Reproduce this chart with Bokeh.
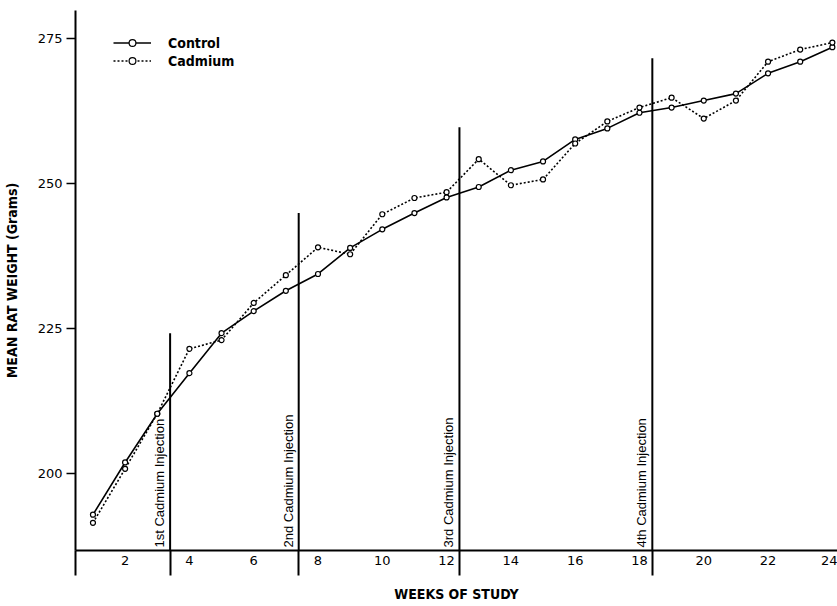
import numpy as np
from bokeh.plotting import figure
from bokeh.models import Range1d, FixedTicker, Legend, LegendItem
from bokeh.core.properties import value
from bokeh.embed import file_html
from bokeh.resources import INLINE

# ---- data ----
weeks = list(range(1, 25))
control = [192.9, 201.9, 210.3, 217.3, 224.2, 228.0, 231.5, 234.4, 238.9, 242.1,
           244.9, 247.6, 249.4, 252.3, 253.8, 257.6, 259.5, 262.2, 263.1, 264.3,
           265.5, 269.0, 271.0, 273.5]
cadmium = [191.5, 200.8, 210.3, 221.5, 223.0, 229.4, 234.2, 239.0, 237.8, 244.7,
           247.5, 248.5, 254.2, 249.7, 250.7, 256.9, 260.7, 263.1, 264.8, 261.2,
           264.3, 271.0, 273.1, 274.3]
injection_weeks = [3.4, 7.4, 12.4, 18.4]
injection_tops = [224.2, 244.9, 259.7, 271.6]
injection_labels = ["1st Cadmium Injection", "2nd Cadmium Injection",
                    "3rd Cadmium Injection", "4th Cadmium Injection"]
x_ticks = list(range(2, 25, 2))
y_ticks = [200, 225, 250, 275]
x_title = "WEEKS OF STUDY"
y_title = "MEAN RAT WEIGHT (Grams)"

# ---- layout ----
X_START, X_END = 0.457, 24.16
Y_START, Y_END = 186.72, 279.83
COND = "DejaVu Sans Condensed"
TICKF = "DejaVu Sans"
REG = "Liberation Sans"

p = figure(width=837, height=606, output_backend="svg", toolbar_location=None,
           x_range=Range1d(X_START, X_END), y_range=Range1d(Y_START, Y_END),
           min_border_left=75, min_border_right=0, min_border_top=10,
           min_border_bottom=56)
p.grid.visible = False
p.outline_line_color = None
p.background_fill_color = "white"
p.border_fill_color = "white"

# x axis: labels on even weeks, long minor ticks continue the vertical rules
xa = p.xaxis[0]
xa.ticker = FixedTicker(ticks=x_ticks, minor_ticks=[X_START] + injection_weeks)
xa.major_tick_in = 0
xa.major_tick_out = 0
xa.minor_tick_in = 0
xa.minor_tick_out = 25
xa.minor_tick_line_width = 2
xa.minor_tick_line_color = "black"
xa.axis_line_width = 2
xa.axis_line_color = "black"
xa.major_label_standoff = -20
xa.major_label_text_font = TICKF
xa.major_label_text_font_size = "13px"
xa.major_label_text_color = "black"
xa.axis_label = x_title
xa.axis_label_standoff = 18
xa.axis_label_text_font = COND
xa.axis_label_text_font_style = "bold"
xa.axis_label_text_font_size = "14px"
xa.axis_label_text_color = "black"

ya = p.yaxis[0]
ya.ticker = FixedTicker(ticks=y_ticks)
ya.major_tick_in = 0
ya.major_tick_out = 9
ya.major_tick_line_width = 1.5
ya.minor_tick_line_color = None
ya.axis_line_width = 2
ya.axis_line_color = "black"
ya.major_label_standoff = 4
ya.major_label_text_font = TICKF
ya.major_label_text_font_size = "13px"
ya.major_label_text_color = "black"
ya.axis_label = y_title
ya.axis_label_standoff = 15
ya.axis_label_text_font = COND
ya.axis_label_text_font_style = "bold"
ya.axis_label_text_font_size = "14px"
ya.axis_label_text_color = "black"

# injection lines and labels
p.segment(x0=injection_weeks, y0=[Y_START] * len(injection_weeks),
          x1=injection_weeks, y1=injection_tops, line_width=2, line_color="black")
p.text(x=injection_weeks, y=[Y_START] * len(injection_weeks), text=injection_labels,
       angle=np.pi / 2, x_offset=-3, y_offset=-3, text_align="left",
       text_baseline="bottom", text_font=value(REG), text_font_size="13px",
       text_color="black")

# series
lc = p.line(weeks, control, line_width=1.6, line_color="black")
ld = p.line(weeks, cadmium, line_width=1.6, line_color="black", line_dash="2 2")
sc = p.scatter(weeks, control, size=5, fill_color="white", line_color="black",
               line_width=1.2)
sd = p.scatter(weeks, cadmium, size=5, fill_color="white", line_color="black",
               line_width=1.2)

legend = Legend(items=[LegendItem(label="Control", renderers=[lc, sc]),
                       LegendItem(label="Cadmium", renderers=[ld, sd])],
                location=(38, 481), orientation="vertical")
legend.border_line_color = None
legend.background_fill_alpha = 0
legend.padding = 0
legend.margin = 0
legend.spacing = 1
legend.glyph_width = 38
legend.glyph_height = 17
legend.label_height = 17
legend.label_standoff = 17
legend.label_text_font = COND
legend.label_text_font_style = "bold"
legend.label_text_font_size = "14px"
legend.label_text_color = "black"
legend.label_text_baseline = "middle"
p.add_layout(legend)

open("out.html", "w").write(file_html(p, INLINE))
